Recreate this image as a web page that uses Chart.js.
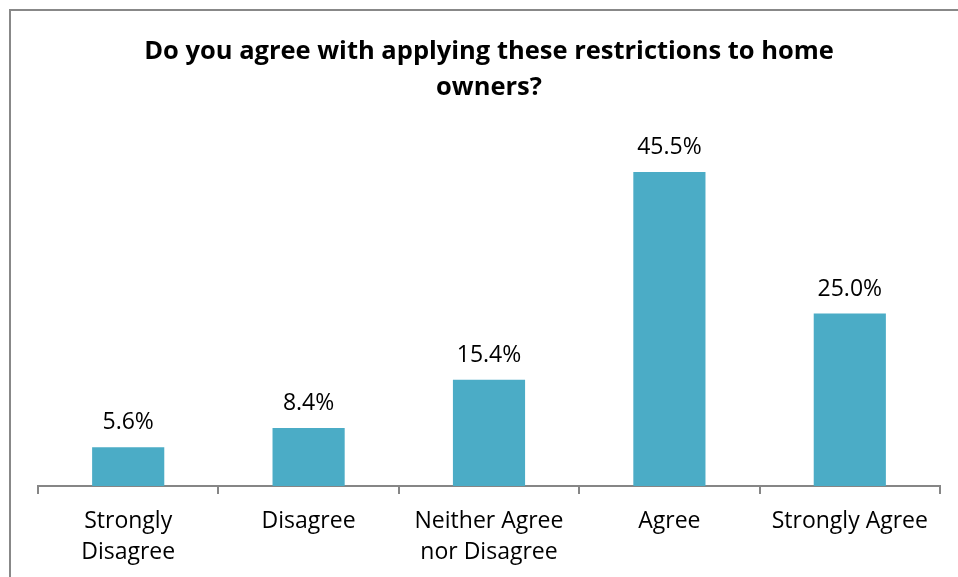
<!DOCTYPE html>
<html>
<head>
<meta charset="utf-8">
<script src="https://cdn.jsdelivr.net/npm/chart.js@4.4.1/dist/chart.umd.min.js"></script>
<style>
  html, body { margin: 0; padding: 0; background: #fff; }
  #wrap { position: relative; width: 958px; height: 577px; }
</style>
</head>
<body>
<div id="wrap"><canvas id="c" width="958" height="577"></canvas></div>
<script>
// Survey responses (percent of respondents)
const categories = [
  ["Strongly", "Disagree"],
  "Disagree",
  ["Neither Agree", "nor Disagree"],
  "Agree",
  "Strongly Agree"
];
const responseShare = [5.6, 8.4, 15.4, 45.5, 25.0];
const titleLines = ["Do you agree with applying these restrictions to home", "owners?"];

const FONT = "'Open Sans', Lato, sans-serif";
const BAR = "#4BACC6";
const AXIS = "#868686";

// Value labels above each bar, positioned from the bar elements
const valueLabels = {
  id: "valueLabels",
  afterDatasetsDraw(chart) {
    const ctx = chart.ctx;
    const meta = chart.getDatasetMeta(0);
    ctx.save();
    ctx.font = "23px " + FONT;
    ctx.fillStyle = "#000";
    ctx.textAlign = "center";
    ctx.textBaseline = "alphabetic";
    meta.data.forEach((bar, i) => {
      const v = chart.data.datasets[0].data[i];
      ctx.fillText(v.toFixed(1) + "%", bar.x, bar.y - 18);
    });
    ctx.restore();
  }
};

// Frame around the chart
const frame = {
  id: "frame",
  beforeDraw(chart) {
    const ctx = chart.ctx;
    ctx.save();
    ctx.strokeStyle = "#888888";
    ctx.lineWidth = 2;
    ctx.beginPath();
    ctx.moveTo(10, 600);
    ctx.lineTo(10, 10);
    ctx.lineTo(1000, 10);
    ctx.stroke();
    ctx.restore();
  }
};

new Chart(document.getElementById("c"), {
  type: "bar",
  data: {
    labels: categories,
    datasets: [{
      data: responseShare,
      backgroundColor: BAR,
      borderWidth: 0,
      barPercentage: 0.4,
      categoryPercentage: 1.0
    }]
  },
  options: {
    responsive: false,
    animation: false,
    devicePixelRatio: 1,
    layout: { padding: { left: 38, right: 18, top: 0, bottom: -3 } },
    plugins: {
      legend: { display: false },
      tooltip: { enabled: false },
      title: {
        display: true,
        text: titleLines,
        color: "#000",
        font: { family: FONT, size: 25.5, weight: "bold", lineHeight: 36 / 25.5 },
        padding: { top: 34, bottom: 35 }
      }
    },
    scales: {
      x: {
        grid: {
          display: true,
          drawOnChartArea: false,
          drawTicks: true,
          tickLength: 8,
          color: AXIS,
          lineWidth: 2
        },
        border: { display: true, color: AXIS, width: 2 },
        ticks: {
          color: "#000",
          font: { family: FONT, size: 23, lineHeight: 31 / 23 },
          padding: 12,
          maxRotation: 0,
          autoSkip: false
        }
      },
      y: {
        display: false,
        min: 0,
        max: 50
      }
    }
  },
  plugins: [frame, valueLabels]
});
</script>
</body>
</html>
